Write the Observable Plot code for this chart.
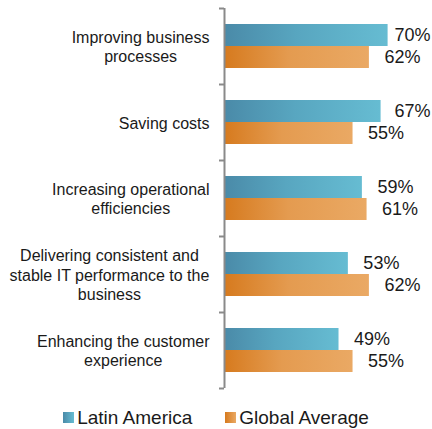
<!DOCTYPE html>
<html><head><meta charset="utf-8">
<script src="https://cdn.jsdelivr.net/npm/d3@7"></script>
<script src="https://cdn.jsdelivr.net/npm/@observablehq/plot@0.6"></script>
<style>
body{margin:0;background:#fff;font-family:"Liberation Sans",Arial,sans-serif;}
#legend{display:flex;justify-content:center;align-items:center;height:35px;margin-top:6px;font-size:19px;color:#1a1a1a;}
.item{display:flex;align-items:center;}
.sw{width:11px;height:11px;margin-right:3px;}
</style></head><body>
<div id="chart"></div>
<div id="legend"></div>
<script>
const categories = [
  "Improving business\nprocesses",
  "Saving costs",
  "Increasing operational\nefficiencies",
  "Delivering consistent and\nstable IT performance to the\nbusiness",
  "Enhancing the customer\nexperience"
];
const latinAmerica = [70, 67, 59, 53, 49];
const globalAverage = [62, 55, 61, 62, 55];
const seriesNames = ["Latin America", "Global Average"];

const rows = categories.map((c, i) => ({cat: c, latam: latinAmerica[i], global: globalAverage[i]}));

const W = 432, H = 394, mL = 224, mT = 8, mB = 6;
const fontFam = "'Liberation Sans', Arial, sans-serif";
const ctx = document.createElement("canvas").getContext("2d");
ctx.font = "16px " + fontFam;
const blockWidth = c => Math.max(...c.split("\n").map(l => ctx.measureText(l).width));

const labelMarks = categories.map(c => Plot.text([c], {
  y: d => d, text: d => d, frameAnchor: "left", textAnchor: "middle",
  dx: -(15 + blockWidth(c) / 2), fontSize: 16, lineHeight: 1.2, fill: "#1a1a1a"
}));

const fmt = v => v + "%";
const fits = v => v < 67;

const chart = Plot.plot({
  width: W, height: H,
  marginLeft: mL, marginRight: 0, marginTop: mT, marginBottom: mB,
  style: {fontFamily: fontFam, background: "white", overflow: "visible"},
  x: {domain: [0, 89], axis: null},
  y: {domain: categories, paddingInner: 0.421, paddingOuter: 0.2105, axis: null},
  marks: [
    Plot.barX(rows, {x: "latam", y: "cat", insetBottom: 22, fill: "url(#gradTeal)"}),
    Plot.barX(rows, {x: "global", y: "cat", insetTop: 22, fill: "url(#gradOrange)"}),
    Plot.text(rows.filter(d => fits(d.latam)), {x: "latam", y: "cat", text: d => fmt(d.latam), dx: 15, dy: -11, textAnchor: "start", fontSize: 18, fill: "#1a1a1a"}),
    Plot.text(rows.filter(d => !fits(d.latam)), {y: "cat", text: d => fmt(d.latam), frameAnchor: "right", dx: -2, dy: -11, textAnchor: "end", fontSize: 18, fill: "#1a1a1a"}),
    Plot.text(rows.filter(d => fits(d.global)), {x: "global", y: "cat", text: d => fmt(d.global), dx: 15, dy: 11, textAnchor: "start", fontSize: 18, fill: "#1a1a1a"}),
    Plot.text(rows.filter(d => !fits(d.global)), {y: "cat", text: d => fmt(d.global), frameAnchor: "right", dx: -2, dy: 11, textAnchor: "end", fontSize: 18, fill: "#1a1a1a"}),
    ...labelMarks,
    Plot.ruleY(categories, {y: d => d, dy: -38, insetLeft: -5, insetRight: W - mL, stroke: "#8a8a8a", strokeWidth: 2}),
    Plot.ruleY(categories.slice(-1), {y: d => d, dy: 38, insetLeft: -5, insetRight: W - mL, stroke: "#8a8a8a", strokeWidth: 2}),
    Plot.ruleX([0], {stroke: "#8a8a8a", strokeWidth: 2})
  ]
});

d3.select(chart).insert("defs", ":first-child").html(`
  <linearGradient id="gradTeal" x1="0" x2="1" y1="0" y2="0">
    <stop offset="0" stop-color="#4a8aa8"/>
    <stop offset="0.45" stop-color="#58a6c0"/>
    <stop offset="1" stop-color="#66bcd2"/>
  </linearGradient>
  <linearGradient id="gradOrange" x1="0" x2="1" y1="0" y2="0">
    <stop offset="0" stop-color="#d67a1e"/>
    <stop offset="0.45" stop-color="#e49b50"/>
    <stop offset="1" stop-color="#eaa964"/>
  </linearGradient>`);
document.getElementById("chart").appendChild(chart);

const legend = d3.select("#legend");
const grads = ["linear-gradient(to right,#4a8aa8,#66bcd2)", "linear-gradient(to right,#d67a1e,#eaa964)"];
seriesNames.forEach((n, i) => {
  const it = legend.append("div").attr("class", "item").style("margin-left", i ? "33px" : "0");
  it.append("div").attr("class", "sw").style("background", grads[i]);
  it.append("span").text(n);
});
</script>
</body></html>
